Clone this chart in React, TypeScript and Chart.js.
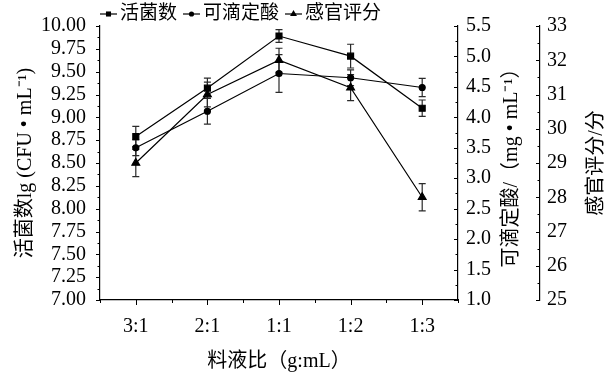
import React, { useEffect, useRef } from 'react';
import { Chart, registerables } from 'chart.js';

Chart.register(...registerables);

const categories = ['3:1', '2:1', '1:1', '1:2', '1:3'];
const viableCount = [8.79, 9.32, 9.89, 9.67, 9.1];
const viableCountErr = [0.11, 0.11, 0.07, 0.13, 0.09];
const acidity = [3.5, 4.1, 4.72, 4.65, 4.49];
const acidityErr = [0.13, 0.21, 0.31, 0.13, 0.15];
const sensory = [29.0, 31.0, 32.0, 31.2, 28.0];
const sensoryErr = [0.4, 0.36, 0.35, 0.38, 0.4];

const legendLabels = ['活菌数', '可滴定酸', '感官评分'];
const xTitle = '料液比（g:mL）';
const yTitle = '活菌数lg (CFU • mL⁻¹)';
const y1Title = '可滴定酸/（mg • mL⁻¹）';
const y2Title = '感官评分/分';

const FONT_FAMILY = '"Liberation Serif", "Noto Sans CJK SC", serif';
const TITLE_FONT = `20px ${FONT_FAMILY}`;
const LEGEND_FONT = `19px ${FONT_FAMILY}`;

function drawMarker(ctx: CanvasRenderingContext2D, style: string, x: number, y: number, r: number) {
  ctx.beginPath();
  if (style === 'rect') {
    const s = r * Math.SQRT1_2;
    ctx.rect(x - s, y - s, 2 * s, 2 * s);
  } else if (style === 'circle') {
    ctx.arc(x, y, r, 0, Math.PI * 2);
  } else {
    ctx.moveTo(x, y - r);
    ctx.lineTo(x + r * 0.866, y + r * 0.5);
    ctx.lineTo(x - r * 0.866, y + r * 0.5);
    ctx.closePath();
  }
  ctx.fill();
}

const errorBarPlugin = {
  id: 'errorBars',
  beforeDatasetsDraw(chart: any) {
    const ctx = chart.ctx as CanvasRenderingContext2D;
    ctx.save();
    ctx.strokeStyle = '#2a2a2a';
    ctx.lineWidth = 1.2;
    chart.data.datasets.forEach((ds: any, di: number) => {
      const meta = chart.getDatasetMeta(di);
      const scale = chart.scales[ds.yAxisID];
      meta.data.forEach((pt: any, i: number) => {
        const v = ds.data[i];
        const e = ds.errors[i];
        const yTop = scale.getPixelForValue(v + e);
        const yBot = scale.getPixelForValue(v - e);
        const x = pt.x;
        ctx.beginPath();
        ctx.moveTo(x, yTop);
        ctx.lineTo(x, yBot);
        ctx.moveTo(x - 3.5, yTop);
        ctx.lineTo(x + 3.5, yTop);
        ctx.moveTo(x - 3.5, yBot);
        ctx.lineTo(x + 3.5, yBot);
        ctx.stroke();
      });
    });
    ctx.restore();
  },
};

const decorPlugin = {
  id: 'decor',
  afterDraw(chart: any) {
    const ctx = chart.ctx as CanvasRenderingContext2D;
    const area = chart.chartArea;
    ctx.save();
    ctx.strokeStyle = '#000';
    ctx.fillStyle = '#000';
    ctx.lineWidth = 1;

    // y-axis tick marks (major + minor)
    ['y', 'y1', 'y2'].forEach((id) => {
      const s = chart.scales[id];
      const ax = id === 'y' ? s.right : s.left;
      const vals = s.ticks.map((t: any) => t.value);
      ctx.beginPath();
      vals.forEach((v: number, k: number) => {
        const py = Math.round(s.getPixelForValue(v)) + 0.5;
        ctx.moveTo(ax, py);
        ctx.lineTo(ax - 4, py);
        if (k < vals.length - 1) {
          const pm = Math.round(s.getPixelForValue((v + vals[k + 1]) / 2)) + 0.5;
          ctx.moveTo(ax, pm);
          ctx.lineTo(ax - 2.5, pm);
        }
      });
      ctx.stroke();
    });

    // x-axis tick marks
    const xs = chart.scales.x;
    ctx.beginPath();
    const n = categories.length;
    for (let i = 0; i < n; i++) {
      const px = Math.round(xs.getPixelForValue(i)) + 0.5;
      ctx.moveTo(px, xs.top);
      ctx.lineTo(px, xs.top + 5);
    }
    for (let i = 0; i <= n; i++) {
      const px = Math.round(xs.getPixelForValue(i - 0.5)) + 0.5;
      ctx.moveTo(px, xs.top);
      ctx.lineTo(px, xs.top + 3);
    }
    ctx.stroke();

    // titles
    ctx.font = TITLE_FONT;
    ctx.textAlign = 'center';
    ctx.textBaseline = 'middle';
    const cy = (area.top + area.bottom) / 2;
    const drawV = (text: string, x: number) => {
      ctx.save();
      ctx.translate(x, cy);
      ctx.rotate(-Math.PI / 2);
      ctx.fillText(text, 0, 0);
      ctx.restore();
    };
    drawV(yTitle, chart.scales.y.left + 26);
    drawV(y1Title, chart.scales.y1.left + 54);
    drawV(y2Title, chart.scales.y2.left + 57);
    ctx.fillText(xTitle, (area.left + area.right) / 2, xs.top + 62);

    // legend
    ctx.font = LEGEND_FONT;
    const styles = ['rect', 'circle', 'triangle'];
    const radii = [3.6, 2.6, 4];
    let lx = area.left;
    const ly = 14;
    ctx.textAlign = 'left';
    legendLabels.forEach((lab, i) => {
      ctx.lineWidth = 1.2;
      ctx.beginPath();
      ctx.moveTo(lx, ly);
      ctx.lineTo(lx + 17, ly);
      ctx.stroke();
      drawMarker(ctx, styles[i], lx + 8.5, ly, radii[i]);
      lx += 20;
      ctx.fillText(lab, lx, ly);
      lx += ctx.measureText(lab).width + 6;
    });

    ctx.restore();
  },
};

export default function App() {
  const canvasRef = useRef<HTMLCanvasElement | null>(null);

  useEffect(() => {
    if (!canvasRef.current) return;
    const tickFont = { family: FONT_FAMILY, size: 20 };
    const border = { display: true, color: '#000', width: 1.2 };
    const chart = new Chart(canvasRef.current, {
      type: 'line',
      data: {
        labels: categories,
        datasets: [
          {
            label: legendLabels[0],
            data: viableCount,
            errors: viableCountErr,
            yAxisID: 'y',
            pointStyle: 'rect',
            pointRadius: 4.2,
            borderColor: '#000',
            backgroundColor: '#000',
            borderWidth: 1.2,
          } as any,
          {
            label: legendLabels[1],
            data: acidity,
            errors: acidityErr,
            yAxisID: 'y1',
            pointStyle: 'circle',
            pointRadius: 3,
            borderColor: '#000',
            backgroundColor: '#000',
            borderWidth: 1.2,
          } as any,
          {
            label: legendLabels[2],
            data: sensory,
            errors: sensoryErr,
            yAxisID: 'y2',
            pointStyle: 'triangle',
            pointRadius: 4.5,
            borderColor: '#000',
            backgroundColor: '#000',
            borderWidth: 1.2,
          } as any,
        ],
      },
      options: {
        animation: false,
        responsive: true,
        maintainAspectRatio: false,
        layout: { padding: { top: 24, left: 0, right: 0, bottom: 0 } },
        plugins: {
          legend: { display: false },
          tooltip: { enabled: false },
        },
        scales: {
          x: {
            type: 'category',
            offset: true,
            grid: { display: false, drawTicks: false },
            border,
            ticks: { font: tickFont, color: '#000', padding: 15, maxRotation: 0, autoSkip: false },
            afterFit: (s: any) => { s.height = 76; },
          },
          y: {
            position: 'left',
            min: 7,
            max: 10,
            grid: { display: false, drawTicks: false },
            border,
            ticks: {
              stepSize: 0.25,
              autoSkip: false,
              font: tickFont,
              color: '#000',
              padding: 14,
              callback: (v: any) => Number(v).toFixed(2),
            },
            afterFit: (s: any) => { s.width = 100; },
          },
          y1: {
            position: 'right',
            min: 1,
            max: 5.5,
            grid: { display: false, drawTicks: false },
            border,
            ticks: {
              stepSize: 0.5,
              autoSkip: false,
              font: tickFont,
              color: '#000',
              padding: 8,
              callback: (v: any) => Number(v).toFixed(1),
            },
            afterFit: (s: any) => { s.width = 82; },
          },
          y2: {
            position: 'right',
            min: 25,
            max: 33,
            grid: { display: false, drawTicks: false },
            border,
            ticks: {
              stepSize: 1,
              autoSkip: false,
              font: tickFont,
              color: '#000',
              padding: 7,
            },
            afterFit: (s: any) => { s.width = 68; },
          },
        },
      } as any,
      plugins: [errorBarPlugin, decorPlugin],
    });
    return () => chart.destroy();
  }, []);

  return (
    <div style={{ position: 'absolute', left: 0, top: 0, width: 608, height: 376, background: '#fff' }}>
      <canvas ref={canvasRef} />
    </div>
  );
}
